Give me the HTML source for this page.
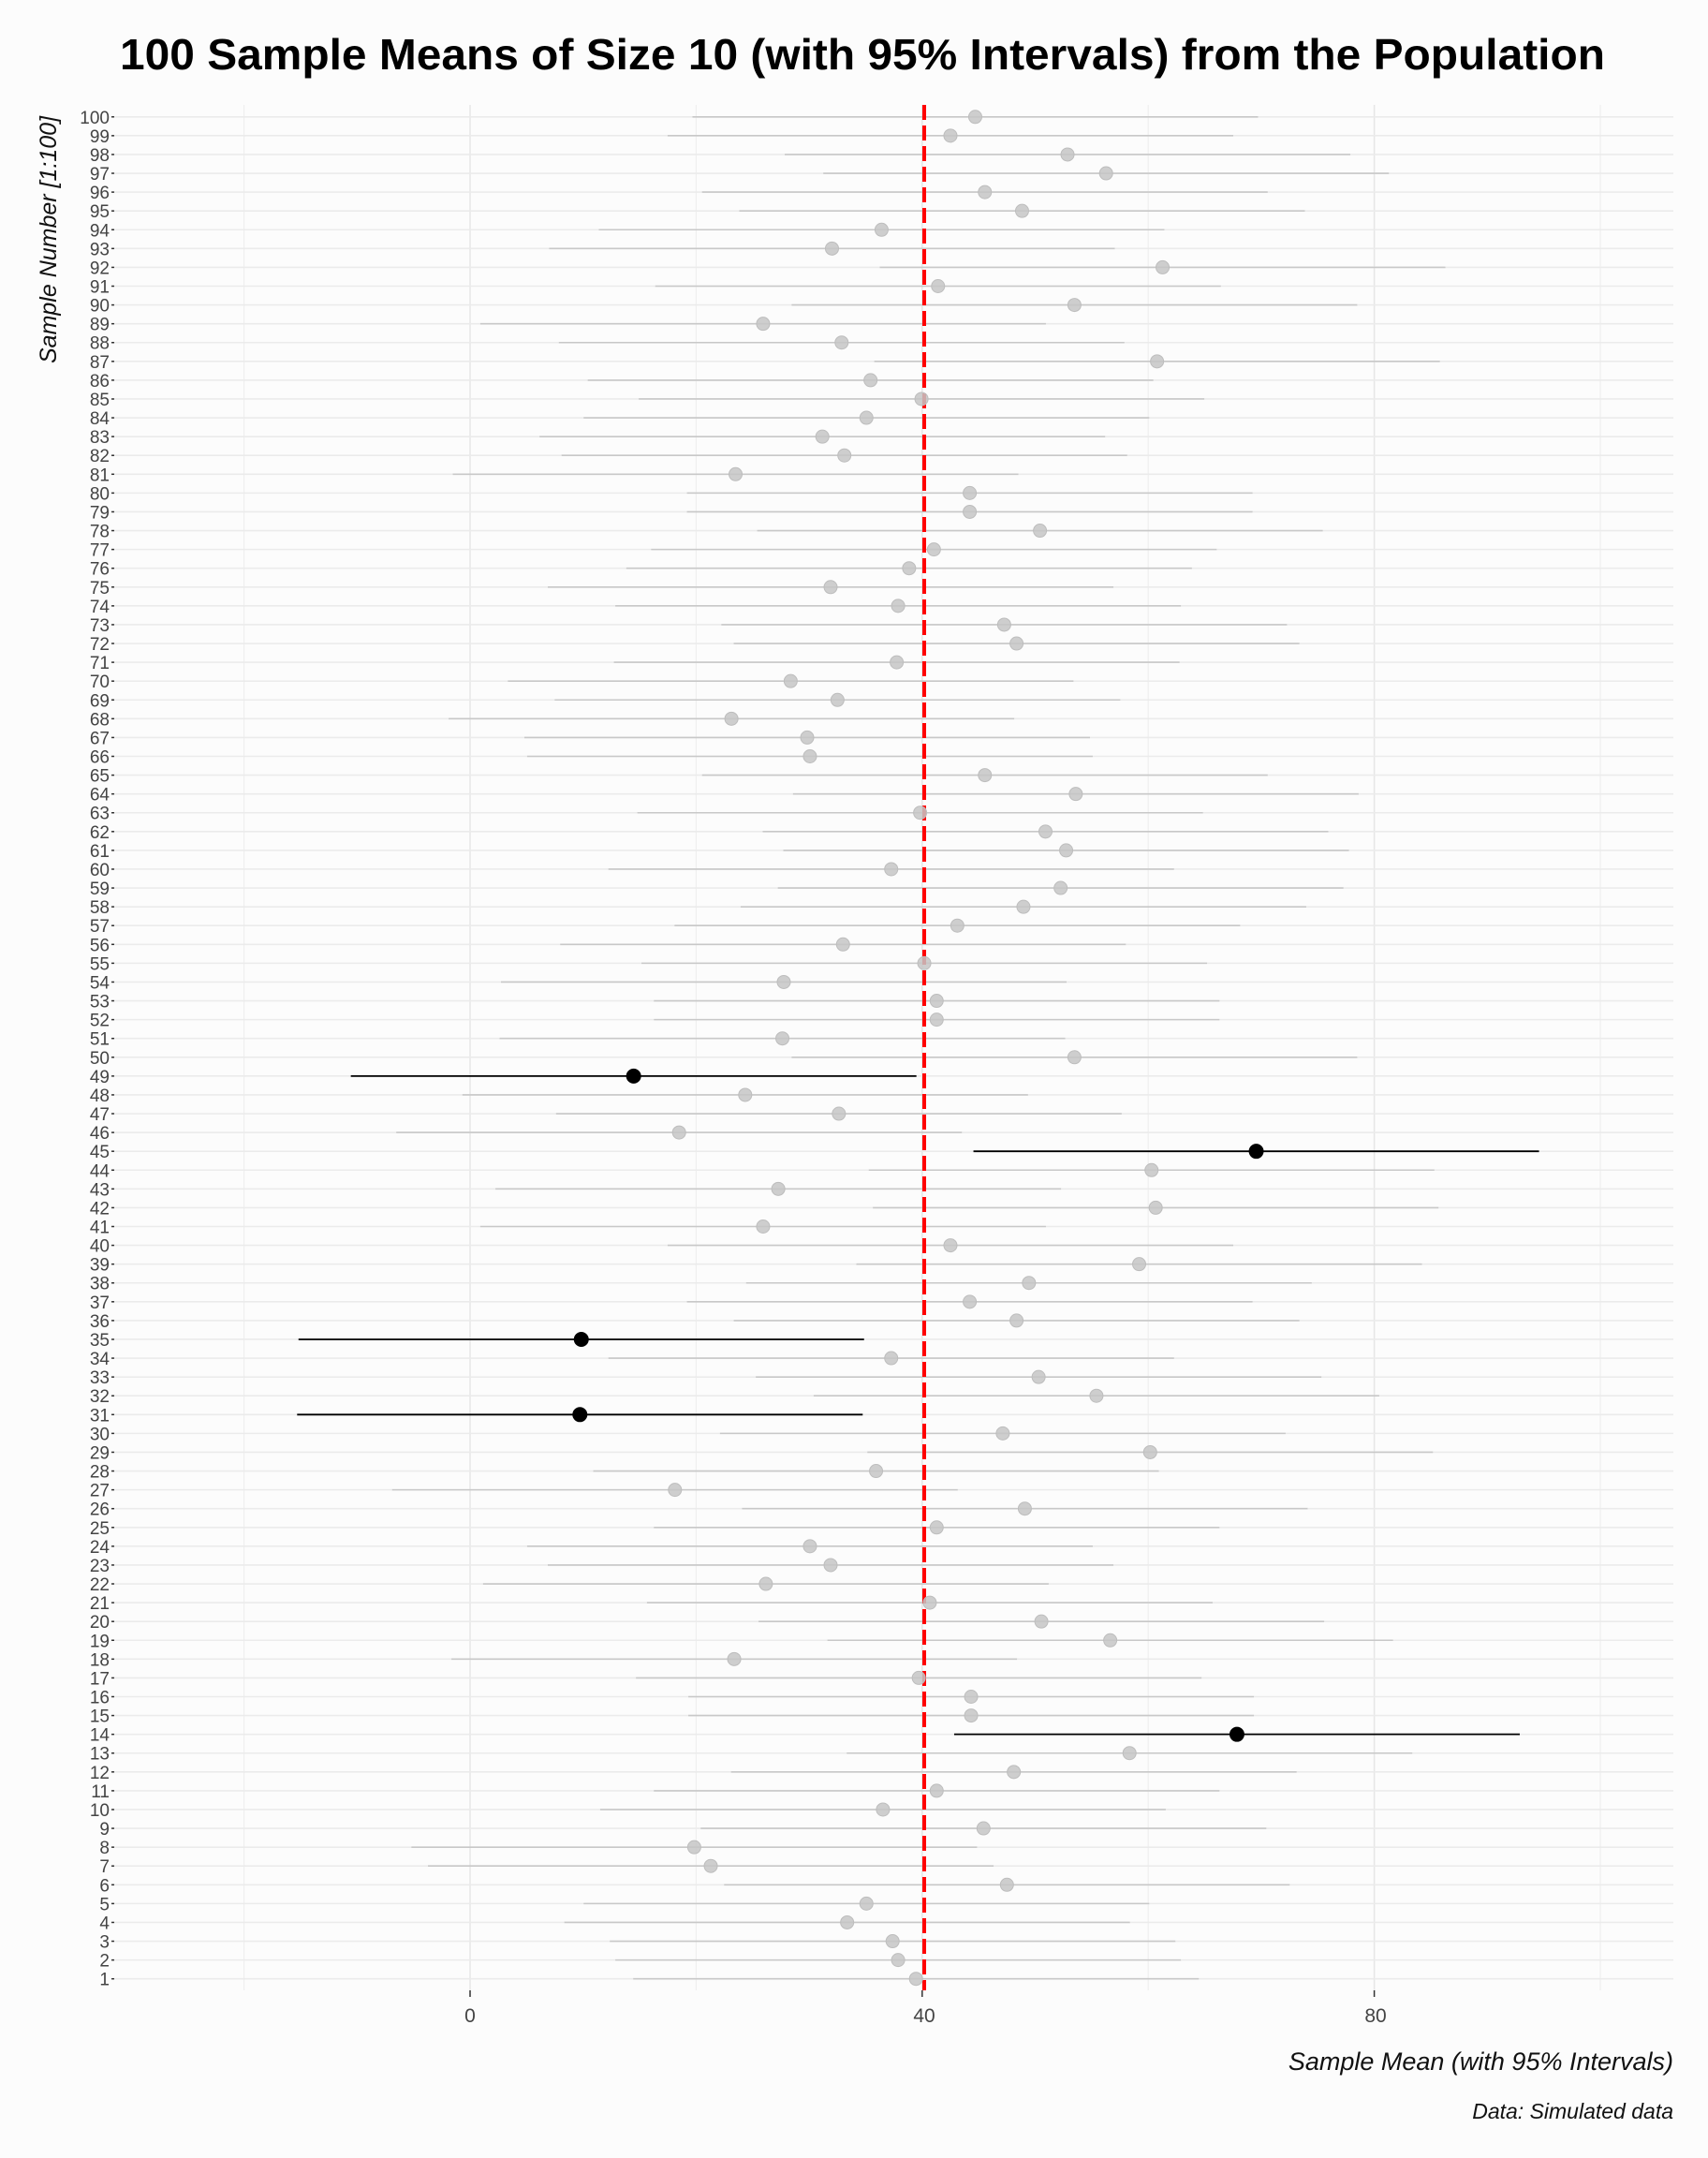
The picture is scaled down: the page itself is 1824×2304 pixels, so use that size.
<!DOCTYPE html>
<html><head><meta charset="utf-8"><style>
html,body{margin:0;padding:0;background:#fcfcfc;}
svg{display:block;font-family:"Liberation Sans",Arial,sans-serif;}
</style></head><body>
<svg id="s" width="1824" height="2304" viewBox="0 0 1824 2304" xmlns="http://www.w3.org/2000/svg">
<rect width="1824" height="2304" fill="#fcfcfc"/>
<text x="921" y="74" text-anchor="middle" font-size="46" font-weight="bold" textLength="1586" lengthAdjust="spacingAndGlyphs">100 Sample Means of Size 10 (with 95% Intervals) from the Population</text>
<g id="g"></g>
<text transform="translate(60,256) rotate(-90)" text-anchor="middle" font-size="25" font-style="italic" fill="#111">Sample Number [1:100]</text>
<text x="502" y="2159" text-anchor="middle" font-size="21" fill="#444">0</text>
<text x="987" y="2159" text-anchor="middle" font-size="21" fill="#444">40</text>
<text x="1469" y="2159" text-anchor="middle" font-size="21" fill="#444">80</text>
<text x="1787" y="2210" text-anchor="end" font-size="27" font-style="italic" fill="#111">Sample Mean (with 95% Intervals)</text>
<text x="1787" y="2262" text-anchor="end" font-size="23" font-style="italic" fill="#111">Data: Simulated data</text>
</svg>
<script>
var d=[665,652,648,615,629,731,516,504,714,641,680,736,820,898,705,705,667,533,806,756,675,556,603,588,680,744,490,636,835,728,421,796,754,647,422,738,704,747,827,690,554,839,565,836,912,493,609,541,460,780,568,680,680,569,671,612,695,743,770,647,774,759,668,781,715,588,586,531,608,574,651,738,729,652,603,660,678,755,704,704,534,613,597,629,669,632,840,611,554,780,681,844,604,640,742,715,803,775,690,708];
var black={14:1,31:1,35:1,45:1,49:1};
var ns="http://www.w3.org/2000/svg",g=document.getElementById('g');
function el(t,a,txt){var e=document.createElementNS(ns,t);for(var k in a)e.setAttribute(k,a[k]);if(txt!=null)e.textContent=txt;g.appendChild(e);return e;}
var L=122,R=1787,T=112,B=2125;
[-20,20,60,100].forEach(function(v){var x=502+v*12.07;el('line',{x1:x,x2:x,y1:T,y2:B,stroke:'#efefef','stroke-width':1.2});});
[0,40,80].forEach(function(v){var x=502+v*12.07;el('line',{x1:x,x2:x,y1:T,y2:B,stroke:'#e6e6e6','stroke-width':1.5});el('line',{x1:x,x2:x,y1:B,y2:B+7,stroke:'#333','stroke-width':1.5});});
for(var i=1;i<=100;i++){var y=2112.7-(i-1)*20.08;
el('line',{x1:L,x2:R,y1:y,y2:y,stroke:'#ebebeb','stroke-width':1.6});
el('line',{x1:L-3,x2:L,y1:y,y2:y,stroke:'#333','stroke-width':1.5});
el('text',{x:L-5,y:y+7,'text-anchor':'end','font-size':19,fill:'#444'},String(i));}
for(var i=1;i<=100;i++){var y=2112.7-(i-1)*20.08,cx=d[i-1]*1.471,b=black[i];
el('line',{x1:cx-302,x2:cx+302,y1:y,y2:y,stroke:b?'#000':'#c8c8c8','stroke-width':b?1.8:1.6});}
el('line',{x1:987,x2:987,y1:T,y2:B,stroke:'#ff0000','stroke-width':4,'stroke-dasharray':'16 6'});
for(var i=1;i<=100;i++){var y=2112.7-(i-1)*20.08,cx=d[i-1]*1.471,b=black[i];
el('circle',{cx:cx,cy:y,r:b?7.5:7,fill:b?'#000':'#c6c6c6','fill-opacity':b?1:0.85,stroke:b?'#000':'#bdbdbd','stroke-width':1});}
</script>
</body></html>
